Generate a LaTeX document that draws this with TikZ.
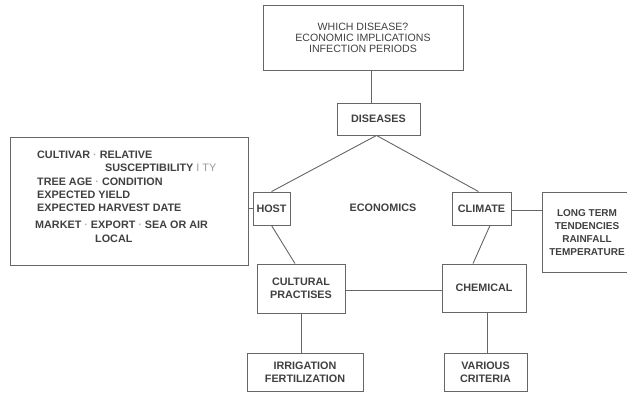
\documentclass[tikz,border=0pt]{standalone}
\usepackage{fontspec}
\setmainfont{Liberation Sans}
\begin{document}
\begin{tikzpicture}[x=1pt,y=-1pt,
  bx/.style={draw=black!60,line width=0.9pt,inner sep=0pt,align=center,text=black!75,font=\fontsize{10.8}{13}\selectfont\bfseries},
  ln/.style={draw=black!60,line width=0.9pt},
  lbl/.style={inner sep=0pt,anchor=west,text=black!75,font=\fontsize{10.8}{12}\selectfont\bfseries}]
\useasboundingbox (0,0) rectangle (627,392);
\node[bx,minimum width=200pt,minimum height=65pt,font=\fontsize{10.6}{11}\selectfont] (top) at (363,37.5) {WHICH DISEASE?\\ECONOMIC IMPLICATIONS\\INFECTION PERIODS};
\node[bx,minimum width=83pt,minimum height=32pt] (dis) at (378.5,119) {DISEASES};
\node[bx,minimum width=37pt,minimum height=33pt] (host) at (271.5,208.5) {HOST};
\node[bx,minimum width=59pt,minimum height=33pt] (clim) at (481.5,208.5) {CLIMATE};
\node[bx,minimum width=238pt,minimum height=128pt] (left) at (129,201) {};
\node[bx,minimum width=98pt,minimum height=80pt] (ltbox) at (591,232) {};
\node[lbl,anchor=center,align=center,font=\fontsize{10}{13}\selectfont\bfseries] (lt) at (587,233) {LONG TERM\\TENDENCIES\\RAINFALL\\TEMPERATURE};
\node[bx,minimum width=88pt,minimum height=49pt] (cult) at (301,288.5) {CULTURAL\\PRACTISES};
\node[bx,minimum width=84pt,minimum height=48pt] (chem) at (484,288) {CHEMICAL};
\node[bx,minimum width=116pt,minimum height=38pt] (irr) at (305,372) {IRRIGATION\\FERTILIZATION};
\node[bx,minimum width=83pt,minimum height=38pt] (var) at (485.5,372) {VARIOUS\\CRITERIA};
\node[lbl] (eco) at (383,208) [anchor=center] {ECONOMICS};
% left box text
\node[lbl] (l1) at (37,155) {CULTIVAR {\color{black!30}·} RELATIVE};
\node[lbl] (l2) at (105,168) {SUSCEPTIBILITY {\mdseries\color{black!40}I TY}};
\node[lbl] (l3) at (37,182) {TREE AGE {\color{black!30}·} CONDITION};
\node[lbl] (l4) at (37,195) {EXPECTED YIELD};
\node[lbl] (l5) at (37,208) {EXPECTED HARVEST DATE};
\node[lbl] (l6) at (35,225) {MARKET {\color{black!30}·} EXPORT {\color{black!30}·} SEA OR AIR};
\node[lbl] (l7) at (95,239) {LOCAL};
% connectors
\draw[ln] ([xshift=-7.5pt]dis.north) -- ([xshift=-7.5pt]dis.north |- top.south);
\draw[ln] ([xshift=-2pt]dis.south) -- (host.north);
\draw[ln] ([xshift=-2pt]dis.south) -- ([xshift=-3pt]clim.north);
\draw[ln] (host.south) -- ([xshift=-6pt]cult.north);
\draw[ln] ([xshift=8.5pt]clim.south) -- ([xshift=-11pt]chem.north);
\draw[ln] ([yshift=-2pt]cult.east) -- ([yshift=-2pt]cult.east -| chem.west);
\draw[ln] (cult.south) -- (cult.south |- irr.north);
\draw[ln] ([xshift=3pt]chem.south) -- ([xshift=3pt]chem.south |- var.north);
\draw[ln] ([yshift=-1.5pt]clim.east) -- ([yshift=-1.5pt]clim.east -| ltbox.west);
\draw[ln] (host.west) -- (host.west -| left.east);
\end{tikzpicture}
\end{document}
